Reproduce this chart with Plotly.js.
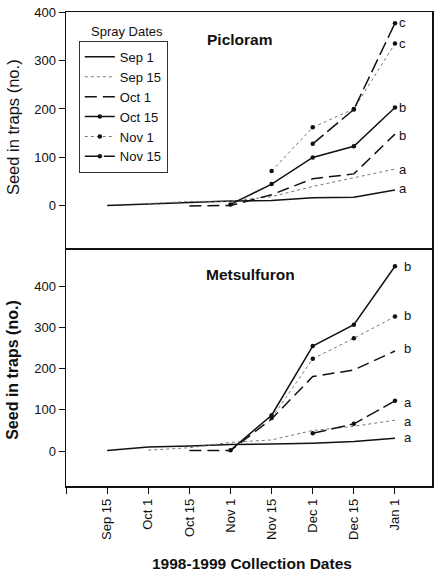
<!DOCTYPE html>
<html>
<head>
<meta charset="utf-8">
<script src="https://cdn.plot.ly/plotly-3.0.1.min.js"></script>
<style>html,body{margin:0;padding:0;background:#fff;}#chart{width:436px;height:573px;}</style>
</head>
<body>
<div id="chart"></div>
<script>
// Collection dates (x categories)
var collectionDates = ['Sep 1','Sep 15','Oct 1','Oct 15','Nov 1','Nov 15','Dec 1','Dec 15','Jan 1'];
var tickLabels = ['','Sep 15','Oct 1','Oct 15','Nov 1','Nov 15','Dec 1','Dec 15','Jan 1'];
var sprayDates = ['Sep 1','Sep 15','Oct 1','Oct 15','Nov 1','Nov 15'];

// Picloram: seed in traps (no.) per spray date
var picSep1  = [null, 1, 4, 7, 10, 11, 17, 18, 33];
var picSep15 = [null, null, 5, 9, 10, 19, 40, 58, 76];
var picOct1  = [null, null, null, 0, 1, 23, 56, 66, 148];
var picOct15 = [null, null, null, null, 3, 45, 100, 123, 203];
var picNov1  = [null, null, null, null, null, 72, 162, 200, 335];
var picNov15 = [null, null, null, null, null, null, 128, 199, 377];
var picLetters = ['a','a','b','b','c','c'];
var picLetterY = [36, 76, 146, 203, 335, 378];

// Metsulfuron
var metSep1  = [null, 1, 10, 12, 16, 17, 19, 23, 31];
var metSep15 = [null, null, 2, 8, 21, 27, 50, 60, 75];
var metOct1  = [null, null, null, 1, 1, 78, 181, 197, 243];
var metOct15 = [null, null, null, null, 2, 87, 255, 307, 449];
var metNov1  = [null, null, null, null, null, 80, 224, 274, 327];
var metNov15 = [null, null, null, null, null, null, 43, 66, 122];
var metLetters = ['a','a','a','b','b','b'];
var metLetterY = [34, 72, 119, 250, 329, 448];

var styles = [
  {line:{color:'#111', width:1.5, dash:'solid'}, mode:'lines'},
  {line:{color:'#777', width:1, dash:'dot'}, mode:'lines'},
  {line:{color:'#111', width:1.5, dash:'12px,6px'}, mode:'lines'},
  {line:{color:'#111', width:1.5, dash:'solid'}, mode:'lines+markers'},
  {line:{color:'#777', width:1, dash:'dot'}, mode:'lines+markers'},
  {line:{color:'#111', width:1.5, dash:'14px,5px'}, mode:'lines+markers'}
];

var picSeries = [picSep1, picSep15, picOct1, picOct15, picNov1, picNov15];
var metSeries = [metSep1, metSep15, metOct1, metOct15, metNov1, metNov15];

var traces = [];
function addPanel(series, xa, ya, showLegend) {
  series.forEach(function(vals, i) {
    traces.push({
      x: collectionDates, y: vals, xaxis: xa, yaxis: ya,
      type: 'scatter', mode: styles[i].mode,
      name: sprayDates[i], showlegend: showLegend, legendgroup: sprayDates[i],
      line: styles[i].line,
      marker: {color: '#111', size: 4.5},
      connectgaps: false, hoverinfo: 'skip'
    });
  });
}
addPanel(picSeries, 'x', 'y', true);
addPanel(metSeries, 'x2', 'y2', false);

var font = {family: '"Liberation Sans", Arial, sans-serif', color: '#111'};

var annotations = [];
picLetters.forEach(function(t, i) {
  annotations.push({xref:'x', yref:'y', x:'Jan 1', y:picLetterY[i], text:t, showarrow:false,
    xanchor:'left', yanchor:'middle', xshift:2, font:{family:font.family, size:13, color:'#111'}});
});
metLetters.forEach(function(t, i) {
  annotations.push({xref:'x2', yref:'y2', x:'Jan 1', y:metLetterY[i], text:t, showarrow:false,
    xanchor:'left', yanchor:'middle', xshift:7, font:{family:font.family, size:13, color:'#111'}});
});
annotations.push(
  {xref:'paper', yref:'paper', x:0.167, y:0.958, text:'Spray Dates', showarrow:false,
   xanchor:'center', yanchor:'middle', font:{family:font.family, size:13, color:'#111'}},
  {xref:'paper', yref:'paper', x:0.475, y:0.943, text:'<b>Picloram</b>', showarrow:false,
   xanchor:'center', yanchor:'middle', font:{family:font.family, size:15.5, color:'#111'}},
  {xref:'paper', yref:'paper', x:0.503, y:0.447, text:'<b>Metsulfuron</b>', showarrow:false,
   xanchor:'center', yanchor:'middle', font:{family:font.family, size:15.5, color:'#111'}},
  {xref:'paper', yref:'paper', x:-0.145, y:0.757, text:'Seed in traps (no.)', showarrow:false,
   textangle:-90, xanchor:'center', yanchor:'middle', font:{family:font.family, size:16.5, color:'#111'}},
  {xref:'paper', yref:'paper', x:-0.145, y:0.245, text:'<b>Seed in traps (no.)</b>', showarrow:false,
   textangle:-90, xanchor:'center', yanchor:'middle', font:{family:font.family, size:16, color:'#111'}},
  {xref:'paper', yref:'paper', x:0.508, y:-0.163, text:'<b>1998-1999 Collection Dates</b>', showarrow:false,
   xanchor:'center', yanchor:'middle', borderpad:0, font:{family:font.family, size:15.5, color:'#111'}}
);

var xBase = {
  type:'category', categoryorder:'array', categoryarray: collectionDates,
  range:[0, 8.9], showgrid:false, zeroline:false,
  showline:true, linecolor:'#111', linewidth:1.5, mirror:true,
  tickmode:'array', tickvals: collectionDates, ticktext: tickLabels
};
var yBase = {
  showgrid:false, zeroline:false, showline:true, linecolor:'#111', linewidth:1.5, mirror:true,
  ticks:'outside', ticklen:6, tickwidth:1, tickcolor:'#111',
  tickvals:[0,100,200,300,400], tickfont:{family:font.family, size:13, color:'#111'}
};

var layout = {
  width:436, height:573,
  margin:{l:66, r:4, t:12, b:87},
  paper_bgcolor:'#fff', plot_bgcolor:'#fff',
  font: font,
  showlegend:true,
  legend:{x:0.035, y:0.939, xanchor:'left', yanchor:'top', bgcolor:'#fff',
    bordercolor:'#333', borderwidth:1, font:{family:font.family, size:13, color:'#111'},
    itemclick:false, tracegroupgap:0},
  xaxis: Object.assign({}, xBase, {anchor:'y', showticklabels:false, ticks:''}),
  xaxis2: Object.assign({}, xBase, {anchor:'y2', matches:'x', ticks:'outside', ticklen:6, tickwidth:1,
    tickcolor:'#111', tickangle:-90, tickfont:{family:font.family, size:13, color:'#111'}}),
  yaxis: Object.assign({}, yBase, {anchor:'x', domain:[0.502, 1], range:[-87, 400]}),
  yaxis2: Object.assign({}, yBase, {anchor:'x2', domain:[0, 0.5], range:[-85, 491]}),
  annotations: annotations
};

Plotly.newPlot('chart', traces, layout, {staticPlot:true, displayModeBar:false});
</script>
</body>
</html>
